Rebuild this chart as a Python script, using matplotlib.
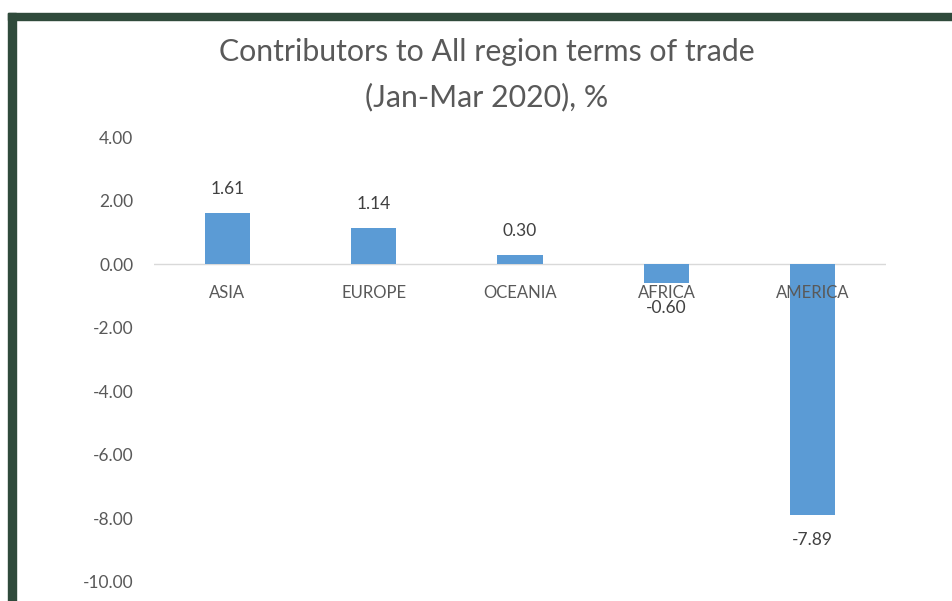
import matplotlib
matplotlib.use("Agg")
import matplotlib.pyplot as plt
from matplotlib.patches import Rectangle

categories = ["ASIA", "EUROPE", "OCEANIA", "AFRICA", "AMERICA"]
values = [1.61, 1.14, 0.30, -0.60, -7.89]
yticks = [4, 2, 0, -2, -4, -6, -8, -10]

W, H = 952, 601
plt.rcParams['font.family'] = ['Lato', 'DejaVu Sans']
fig = plt.figure(figsize=(W/100, H/100), dpi=100)

# dark green frame (top and left)
frame_col = "#2f4a3b"
fig.patches.append(Rectangle((8/W, 1-20/H), 1-8/W, 7/H, transform=fig.transFigure, color=frame_col, zorder=0))
fig.patches.append(Rectangle((8/W, 0), 8/W, 1-13/H, transform=fig.transFigure, color=frame_col, zorder=0))

ax = fig.add_axes([154/W, 1-582/H, (886-154)/W, (582-137)/H])
x = list(range(len(categories)))
ax.bar(x, values, width=0.31, color="#5b9bd5", zorder=2)
ax.set_xlim(-0.5, len(categories)-0.5)
ax.set_ylim(-10, 4)
ax.set_yticks(yticks)
ax.set_yticklabels([f"{v:.2f}" for v in yticks], color="#595959", fontsize=12.5)
ax.tick_params(axis='y', length=0, pad=15)
ax.set_xticks([])
for s in ax.spines.values():
    s.set_visible(False)
ax.axhline(0, color="#d9d9d9", lw=1, zorder=1)

for xi, (c, v) in enumerate(zip(categories, values)):
    ax.annotate(c, (xi, 0), xytext=(0, -20.5), textcoords="offset points",
                ha="center", va="center", fontsize=12, color="#595959", zorder=3)
    off = 17 if v >= 0 else -18
    ax.annotate(f"{v:.2f}", (xi, v), xytext=(0, off), textcoords="offset points",
                ha="center", va="center", fontsize=12.5, color="#404040", zorder=4)

fig.text(487/W, 1-52/H, "Contributors to All region terms of trade", ha="center", va="center",
         fontsize=21.8, color="#595959")
fig.text(487/W, 1-97/H, "(Jan-Mar 2020), %", ha="center", va="center",
         fontsize=21.8, color="#595959")

fig.savefig("out.png", dpi=100)
